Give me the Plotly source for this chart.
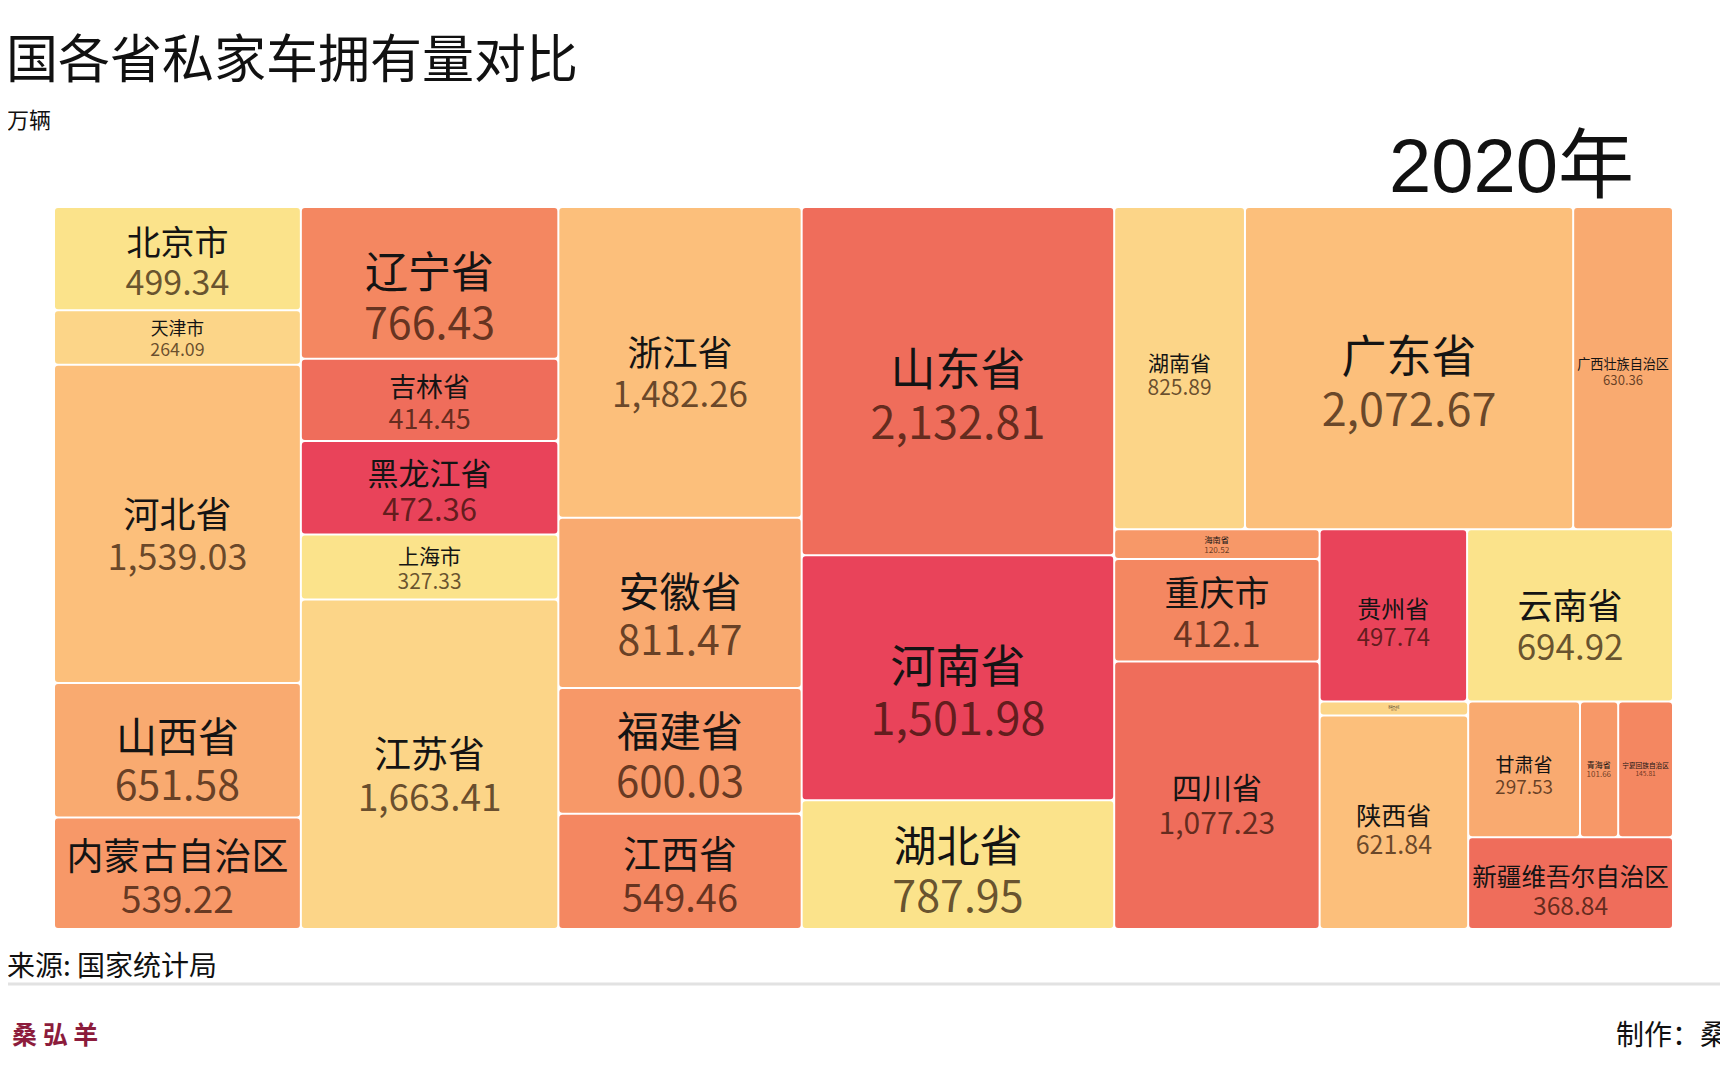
import plotly.graph_objects as go

# ---- data (standard province order, 2020, 万辆) ----
provinces = ["北京市", "天津市", "河北省", "山西省", "内蒙古自治区",
             "辽宁省", "吉林省", "黑龙江省",
             "上海市", "江苏省", "浙江省", "安徽省", "福建省", "江西省", "山东省",
             "河南省", "湖北省", "湖南省", "广东省", "广西壮族自治区", "海南省",
             "重庆市", "四川省", "贵州省", "云南省", "西藏自治区",
             "陕西省", "甘肃省", "青海省", "宁夏回族自治区", "新疆维吾尔自治区"]
cars_2020 = [499.34, 264.09, 1539.03, 651.58, 539.22,
             766.43, 414.45, 472.36,
             327.33, 1663.41, 1482.26, 811.47, 600.03, 549.46, 2132.81,
             1501.98, 787.95, 825.89, 2072.67, 630.36, 120.52,
             412.1, 1077.23, 497.74, 694.92, 40.92,
             621.84, 297.53, 101.66, 145.81, 368.84]
year_label = "2020年"

# ---- styles ----
palette = ["#fbe38b", "#fcd588", "#fcbf7b", "#f9aa70",
           "#f79868", "#f48761", "#ef6d5b", "#e9435a"]
tile_colors = [palette[i % len(palette)] for i in range(len(provinces))]
label_sizes = [34, 18, 36, 41, 37,
               43, 27, 31,
               21, 37, 35, 41, 42, 38, 45,
               45, 43, 21, 45, 14, 10,
               35, 30, 24, 35, 6,
               25, 19, 8, 8, 30]
# relative size of an empty spacer line above each label (nudges text down)
spacer_ratio = [0.08, 0, 0.45, 0.32, 0.1,
                0.45, 0.1, 0.07,
                0.04, 0.45, 0.45, 0.45, 0.1, 0.1, 0.45,
                0.45, 0.12, 0.45, 0.45, 0.45, 0,
                0.05, 0.45, 0.45, 0.45, 0,
                0.45, 0.45, 0, 0, 0.45]
value_color = "rgba(30,10,0,0.68)"

base_sizes = [round(s * 0.9, 1) for s in label_sizes]
templates = []
for s, r in zip(label_sizes, spacer_ratio):
    t = (f"<span style='font-size:{s}px'>%{{label}}</span><br>"
         f"<span style='font-size:{s}px;color:{value_color}'>%{{value:,.2~f}}</span>")
    if r > 0:
        t = f"<span style='font-size:{s * r:.1f}px'>&nbsp;</span><br>" + t
    templates.append(t)

W, H = 1728, 1080
OFF = 8  # page body margin of the html page

def px(xp, yp):
    """page pixel -> paper coordinate"""
    return (xp - OFF) / W, 1 - (yp - OFF) / H

dx0, dy1 = px(55, 208)
dx1, dy0 = px(1672, 928)

fig = go.Figure(go.Treemap(
    labels=provinces,
    parents=[""] * len(provinces),
    values=cars_2020,
    sort=False,
    tiling=dict(packing="squarify", squarifyratio=1.618034, pad=2),
    marker=dict(colors=tile_colors, line=dict(width=0), cornerradius=3,
                pad=dict(t=0, l=0, r=0, b=0)),
    texttemplate=templates,
    textposition="middle center",
    textfont=dict(size=base_sizes, family="Noto Sans CJK SC", color="#141414"),
    hoverinfo="label+value",
    pathbar=dict(visible=False),
    domain=dict(x=[dx0, dx1], y=[dy0, dy1]),
))

annos = []
tx, ty = px(8, 56)
annos.append(dict(x=tx, y=ty, xref="paper", yref="paper", xanchor="left", yanchor="middle",
                  xshift=-4, text="国各省私家车拥有量对比", showarrow=False,
                  font=dict(size=52, family="Noto Sans CJK SC", color="#111111")))
tx, ty = px(8, 118)
annos.append(dict(x=tx, y=ty, xref="paper", yref="paper", xanchor="left", yanchor="middle",
                  xshift=-3, text="万辆", showarrow=False,
                  font=dict(size=22, family="Noto Sans CJK SC", color="#111111")))
tx, ty = px(1636, 166)
annos.append(dict(x=tx, y=ty, xref="paper", yref="paper", xanchor="right", yanchor="middle",
                  text=year_label, showarrow=False,
                  font=dict(size=76, family="Liberation Sans, Noto Sans CJK SC", color="#111111")))
tx, ty = px(8, 964)
annos.append(dict(x=tx, y=ty, xref="paper", yref="paper", xanchor="left", yanchor="middle",
                  xshift=-3, text="来源: 国家统计局", showarrow=False,
                  font=dict(size=28, family="Noto Sans CJK SC", color="#111111")))
tx, ty = px(10, 1033)
annos.append(dict(x=tx, y=ty, xref="paper", yref="paper", xanchor="left", yanchor="middle",
                  text="<b>桑 弘 羊</b>", showarrow=False,
                  font=dict(size=25, family="Noto Sans CJK SC", color="#8c1c3c")))
tx, ty = px(1614, 1033)
annos.append(dict(x=tx, y=ty, xref="paper", yref="paper", xanchor="left", yanchor="middle",
                  text="制作：桑", showarrow=False,
                  font=dict(size=28, family="Noto Sans CJK SC", color="#111111")))

_, ly = px(0, 984)
fig.update_layout(
    width=W, height=H,
    margin=dict(l=0, r=0, t=0, b=0),
    paper_bgcolor="white",
    annotations=annos,
    shapes=[dict(type="line", xref="paper", yref="paper", x0=0, x1=1, y0=ly, y1=ly,
                 line=dict(color="#e2e2e2", width=3))],
)

fig.write_html("out.html")
